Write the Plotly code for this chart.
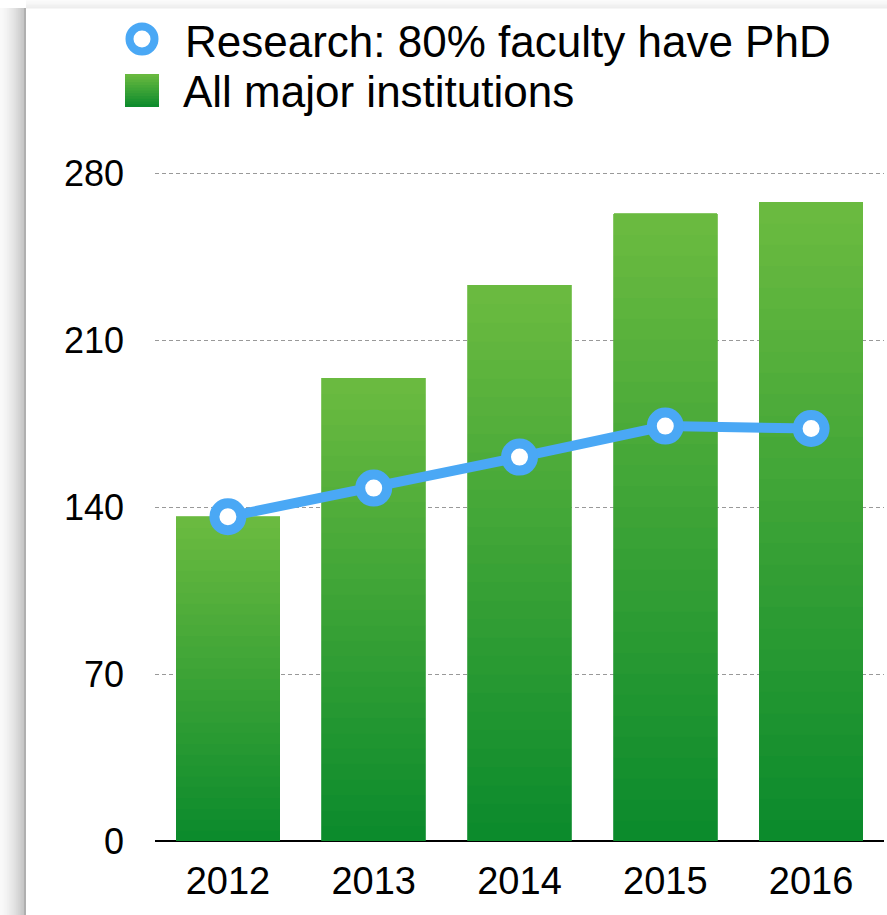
import plotly.graph_objects as go

years = ["2012", "2013", "2014", "2015", "2016"]
all_major = [136, 194, 233, 263, 268]
research = [136, 148, 161, 174, 173]
y_ticks = [0, 70, 140, 210, 280]

W, H = 887, 915
PL, PR, PT, PB = 155, 3, 171, 74
plot_w = W - PL - PR
plot_h = H - PT - PB

BOTTOM = (10, 138, 44)
TOP = (108, 187, 64)
N_SEG = 30

def mix(t):
    return "rgb(%d,%d,%d)" % tuple(round(BOTTOM[i] + (TOP[i] - BOTTOM[i]) * t) for i in range(3))

fig = go.Figure()

# gradient bars: each bar split into stacked segments
for k in range(N_SEG):
    c = mix((k + 0.5) / N_SEG)
    fig.add_trace(go.Bar(
        x=years,
        y=[v / N_SEG for v in all_major],
        marker=dict(color=c, line=dict(width=0.8, color=c)),
        width=0.71,
        showlegend=False,
        hoverinfo="skip",
    ))

fig.add_trace(go.Scatter(
    x=years, y=research, mode="lines+markers",
    line=dict(color="#4aa8f5", width=10),
    marker=dict(size=27, color="white", line=dict(color="#4aa8f5", width=10)),
    showlegend=False,
))

def px_x(px):
    return (px - PL) / plot_w

def px_y(py):
    return (H - PB - py) / plot_h

shapes = []
# card shadow on the left
n = 14
for i in range(n):
    x0 = 25 * i / n
    x1 = 25 * (i + 1) / n + 0.6
    g = round(250 - 55 * ((i + 1) / n) ** 1.6)
    shapes.append(dict(type="rect", xref="paper", yref="paper",
                       x0=px_x(x0), x1=px_x(x1), y0=px_y(H), y1=px_y(8),
                       fillcolor="rgb(%d,%d,%d)" % (g, g, g), line=dict(width=0), layer="above"))
shapes.append(dict(type="rect", xref="paper", yref="paper",
                   x0=px_x(24), x1=px_x(26), y0=px_y(H), y1=px_y(8),
                   fillcolor="rgb(175,175,175)", line=dict(width=0), layer="above"))
# top shadow
for i in range(6):
    y0 = 8 * i / 6
    y1 = 8 * (i + 1) / 6 + 0.6
    g = round(252 - 14 * ((i + 1) / 6) ** 1.5)
    shapes.append(dict(type="rect", xref="paper", yref="paper",
                       x0=px_x(26), x1=px_x(W), y0=px_y(y1), y1=px_y(y0),
                       fillcolor="rgb(%d,%d,%d)" % (g, g, g), line=dict(width=0), layer="above"))

# legend: circle marker
shapes.append(dict(type="line", xref="paper", yref="paper",
                   x0=px_x(126), x1=px_x(158), y0=px_y(39), y1=px_y(39),
                   line=dict(color="#4aa8f5", width=9), layer="above"))
shapes.append(dict(type="circle", xref="paper", yref="paper",
                   x0=px_x(142 - 12.5), x1=px_x(142 + 12.5), y0=px_y(39 + 12.5), y1=px_y(39 - 12.5),
                   fillcolor="white", line=dict(color="#4aa8f5", width=8), layer="above"))
# legend: gradient square
ns = 12
for i in range(ns):
    y0 = 107 - 33 * i / ns
    y1 = 107 - 33 * (i + 1) / ns - (0.8 if i < ns - 1 else 0)
    shapes.append(dict(type="rect", xref="paper", yref="paper",
                       x0=px_x(125), x1=px_x(159), y0=px_y(y0), y1=px_y(y1),
                       fillcolor=mix((i + 0.5) / ns), line=dict(width=0), layer="above"))

annotations = [
    dict(text="Research: 80% faculty have PhD", xref="paper", yref="paper",
         x=px_x(183), y=px_y(41), xanchor="left", yanchor="middle", showarrow=False,
         font=dict(size=44, color="black")),
    dict(text="All major institutions", xref="paper", yref="paper",
         x=px_x(181), y=px_y(92), xanchor="left", yanchor="middle", showarrow=False,
         font=dict(size=44, color="black")),
]

fig.update_layout(
    width=W, height=H,
    margin=dict(l=PL, r=PR, t=PT, b=PB),
    barmode="stack",
    bargap=0.29,
    paper_bgcolor="white",
    plot_bgcolor="white",
    font=dict(family="Liberation Sans, Arial, Helvetica, sans-serif", color="black"),
    showlegend=False,
    shapes=shapes,
    annotations=annotations,
    xaxis=dict(
        showgrid=False, showline=False, ticks="",
        tickfont=dict(size=38, color="black"),
        ticklabelstandoff=14,
    ),
    yaxis=dict(
        range=[0, 281], tickvals=y_ticks, ticktext=[str(v) for v in y_ticks],
        showgrid=True, gridcolor="#999999", griddash="4px,3px", gridwidth=1,
        zeroline=True, zerolinecolor="black", zerolinewidth=2,
        showline=False, ticks="",
        tickfont=dict(size=36, color="black"),
        ticklabelstandoff=30,
    ),
)

fig.write_html("out.html", config={"displayModeBar": False},
               post_script="document.body.style.margin='0';document.body.style.overflow='hidden';")
